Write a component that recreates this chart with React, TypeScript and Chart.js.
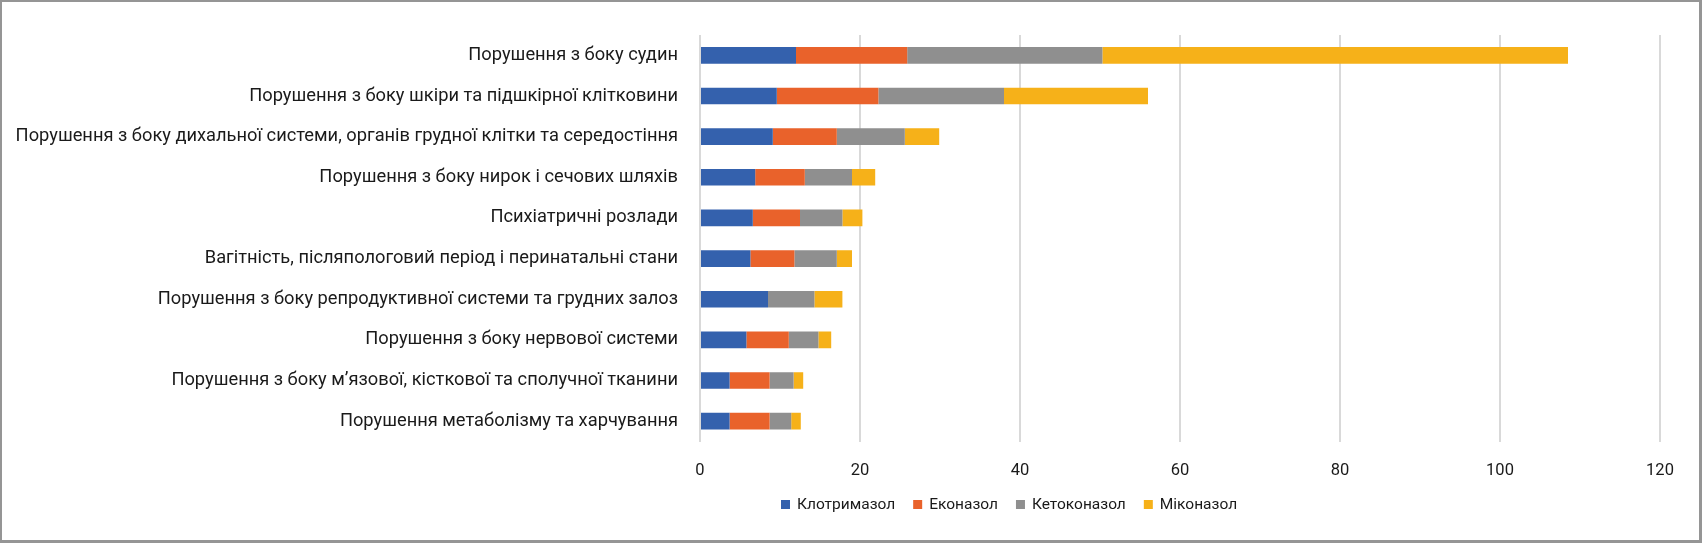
import React, { useEffect, useRef } from "react";
import { Chart, registerables } from "chart.js";

Chart.register(...registerables);

const categories = [
  "Порушення з боку судин",
  "Порушення з боку шкіри та підшкірної клітковини",
  "Порушення з боку дихальної системи, органів грудної клітки та середостіння",
  "Порушення з боку нирок і сечових шляхів",
  "Психіатричні розлади",
  "Вагітність, післяпологовий період і перинатальні стани",
  "Порушення з боку репродуктивної системи та грудних залоз",
  "Порушення з боку нервової системи",
  "Порушення з боку м’язової, кісткової та сполучної тканини",
  "Порушення метаболізму та харчування",
];

const seriesNames = ["Клотримазол", "Еконазол", "Кетоконазол", "Міконазол"];

const clotrimazole = [12.0, 9.6, 9.1, 6.9, 6.6, 6.3, 8.5, 5.8, 3.7, 3.7];
const econazole = [13.9, 12.7, 8.0, 6.2, 5.9, 5.5, 0, 5.3, 5.0, 5.0];
const ketoconazole = [24.4, 15.7, 8.5, 5.9, 5.3, 5.3, 5.8, 3.7, 3.0, 2.7];
const miconazole = [58.2, 18.0, 4.3, 2.9, 2.5, 1.9, 3.5, 1.6, 1.2, 1.2];

const xTicks = [0, 20, 40, 60, 80, 100, 120];

const colors = ["#3461ad", "#e9622b", "#8f8f8f", "#f6b119"];

const FONT = "Roboto";

const customLegend = {
  id: "customLegend",
  afterDraw(chart: any) {
    const ctx = chart.ctx;
    const area = chart.chartArea;
    ctx.save();
    ctx.font = `15.5px ${FONT}`;
    ctx.textBaseline = "middle";
    ctx.textAlign = "left";
    let x = area.left + 81;
    const y = area.bottom + 63;
    chart.data.datasets.forEach((ds: any) => {
      ctx.fillStyle = ds.backgroundColor;
      ctx.fillRect(x, y - 4.5, 9, 9);
      x += 16;
      ctx.fillStyle = "#1a1a1a";
      ctx.fillText(ds.label, x, y + 1);
      x += ctx.measureText(ds.label).width + 18;
    });
    ctx.restore();
  },
};

export default function App() {
  const ref = useRef<HTMLCanvasElement | null>(null);

  useEffect(() => {
    document.body.style.margin = "0";
    if (!ref.current) return;
    const data = [clotrimazole, econazole, ketoconazole, miconazole];
    const chart = new Chart(ref.current, {
      type: "bar",
      data: {
        labels: categories,
        datasets: seriesNames.map((name, i) => ({
          label: name,
          data: data[i],
          backgroundColor: colors[i],
          borderWidth: 0,
          barPercentage: 0.41,
          categoryPercentage: 1,
        })),
      },
      options: {
        indexAxis: "y",
        animation: false,
        responsive: false,
        maintainAspectRatio: false,
        layout: { padding: { left: 0, top: 33, right: 39, bottom: 60 } },
        plugins: {
          legend: { display: false },
          tooltip: { enabled: false },
        },
        scales: {
          x: {
            stacked: true,
            min: 0,
            max: 120,
            afterBuildTicks: (scale: any) => {
              scale.ticks = xTicks.map((v) => ({ value: v }));
            },
            afterFit: (scale: any) => {
              scale.height = 38.5;
            },
            grid: {
              color: "#d9d9d9",
              lineWidth: 2,
              drawTicks: false,
            },
            border: { display: false },
            ticks: {
              padding: 19,
              color: "#1a1a1a",
              font: { family: FONT, size: 16.5 },
            },
          },
          y: {
            stacked: true,
            afterFit: (scale: any) => {
              scale.width = 698;
            },
            grid: { display: false, drawTicks: false },
            border: { display: false },
            ticks: {
              padding: 22,
              color: "#1a1a1a",
              font: { family: FONT, size: 18.3 },
              autoSkip: false,
            },
          },
        },
      },
      plugins: [customLegend],
    });
    return () => chart.destroy();
  }, []);

  return (
    <div
      style={{
        position: "relative",
        width: 1702,
        height: 543,
        boxSizing: "border-box",
        borderStyle: "solid",
        borderColor: "#959595",
        borderWidth: "2px 3px 3px 2px",
        background: "#ffffff",
      }}
    >
      <canvas ref={ref} width={1697} height={538} style={{ display: "block" }} />
    </div>
  );
}
